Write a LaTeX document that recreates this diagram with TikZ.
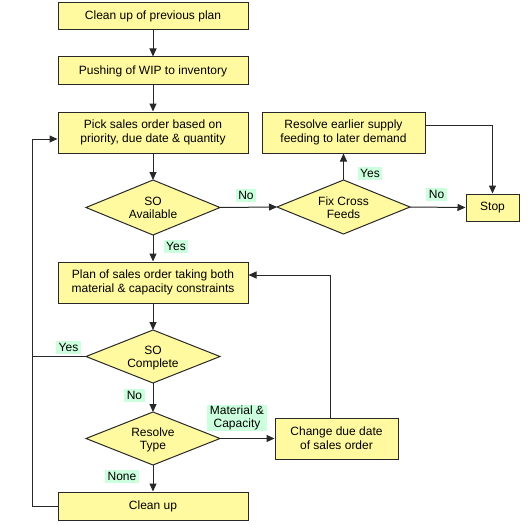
\documentclass[tikz,border=0pt]{standalone}
\usepackage{fontspec}
\setmainfont{Liberation Sans}
\usetikzlibrary{shapes.geometric,arrows.meta}
\definecolor{boxfill}{RGB}{255,250,160}
\definecolor{labfill}{RGB}{204,255,221}
\definecolor{edge}{RGB}{40,40,40}
\newcommand{\dtext}[1]{\smash{\raisebox{-5pt}{\renewcommand{\arraystretch}{0.93}\begin{tabular}{@{}c@{}}#1\end{tabular}}}}
\begin{document}
\begin{tikzpicture}[x=1pt,y=-1pt,
  every node/.style={font=\fontsize{12}{14}\selectfont, align=center},
  procbox/.style={draw=edge, fill=boxfill, line width=1pt, inner sep=0pt},
  decision/.style={draw=edge, fill=boxfill, line width=1pt, diamond, inner sep=0pt, outer sep=0pt},
  lab/.style={fill=labfill, inner xsep=2.5pt, inner ysep=0pt, minimum height=13pt},
  conn/.style={draw=edge, line width=1pt},
  arr/.style={conn, -{Triangle[length=8pt,width=7pt]}}]
\useasboundingbox (0,0) rectangle (529,524);
% boxes
\node[procbox, minimum width=190pt, minimum height=27pt] (b1) at (153,16.5) {Clean up of previous plan};
\node[procbox, minimum width=190pt, minimum height=28pt] (b2) at (153,71) {Pushing of WIP to inventory};
\node[procbox, minimum width=190pt, minimum height=41pt] (b3) at (153,132.5) {Pick sales order based on\\priority, due date \& quantity};
\node[decision, minimum width=134pt, minimum height=55pt] (d1) at (153,207.5) {\dtext{SO\\Available}};
\node[decision, minimum width=133pt, minimum height=54pt] (d2) at (343.5,207) {\dtext{Fix Cross\\Feeds}};
\node[procbox, minimum width=163pt, minimum height=41pt] (r) at (343.5,132.5) {Resolve earlier supply\\feeding to later demand};
\node[procbox, minimum width=53pt, minimum height=27pt] (stop) at (492.5,207.5) {Stop};
\node[procbox, minimum width=190pt, minimum height=41pt] (plan) at (153,282.5) {Plan of sales order taking both\\material \& capacity constraints};
\node[decision, minimum width=134pt, minimum height=53pt] (d3) at (153,356.5) {\dtext{SO\\Complete}};
\node[decision, minimum width=134pt, minimum height=53pt] (d4) at (153,438.5) {\dtext{Resolve\\Type}};
\node[procbox, minimum width=123pt, minimum height=41pt] (chg) at (336.5,438.5) {Change due date\\of sales order};
\node[procbox, minimum width=190pt, minimum height=28pt] (clean) at (153,506) {Clean up};
% helper coordinates
\coordinate (loopx) at (32,0);
\coordinate (rout) at ([yshift=7.5pt]r.east);
\coordinate (chgout) at ([xshift=-6.5pt]chg.north);
\coordinate (planin) at ([yshift=7.5pt]plan.east);
\coordinate (b3in) at ([yshift=-6.5pt]b3.west);
% connectors
\draw[arr] (b1) -- (b2);
\draw[arr] (b2) -- (b3);
\draw[arr] (b3) -- (d1);
\draw[arr] (d1.east) -- (d2.west);
\draw[arr] (d2.north) -- (r.south);
\draw[arr] (d2.east) -- (stop.west);
\draw[arr] (rout) -| (stop.north);
\draw[arr] (d1.south) -- (plan.north);
\draw[arr] (plan) -- (d3);
\draw[arr] (d3.south) -- (d4.north);
\draw[arr] (d4.east) -- (chg.west);
\draw[arr] (chgout) |- (planin);
\draw[arr] (d4.south) -- (clean.north);
\draw[arr] (clean.west) -| (loopx |- b3in) -- (b3in);
\draw[conn] (d3.west) -- (loopx |- d3.west);
% labels
\node[lab] (l1) at (246,195.5) {No};
\node[lab] (l2) at (176,246.5) {Yes};
\node[lab] (l3) at (370,173) {Yes};
\node[lab] (l4) at (436.5,194.5) {No};
\node[lab] (l5) at (68.5,347) {Yes};
\node[lab] (l6) at (134.5,395.5) {No};
\node[lab, inner ysep=1pt, font=\fontsize{12}{13}\selectfont] (l7) at (237,418) {Material \&\\Capacity};
\node[lab] (l8) at (122,476.5) {None};
\end{tikzpicture}
\end{document}
